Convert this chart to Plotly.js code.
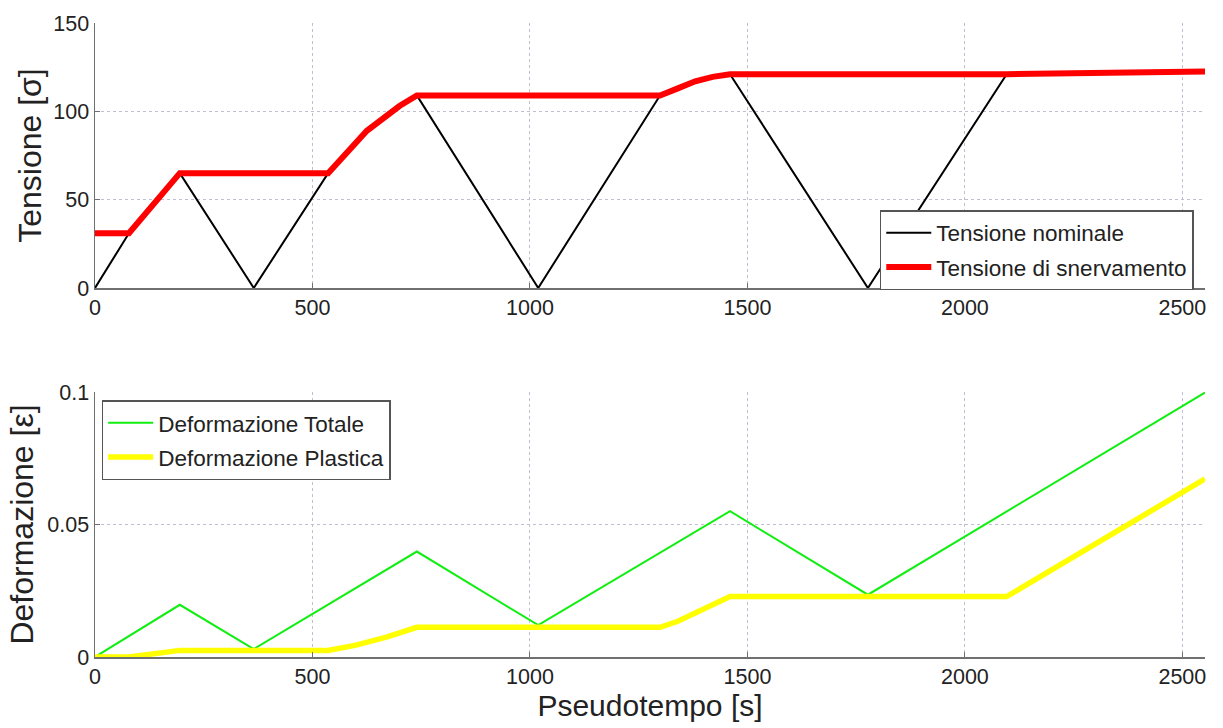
<!DOCTYPE html>
<html>
<head>
<meta charset="utf-8">
<script src="https://cdn.plot.ly/plotly-3.0.1.min.js"></script>
<style>html,body{margin:0;padding:0;background:#fff;}#chart{width:1223px;height:728px;}</style>
</head>
<body>
<div id="chart"></div>
<script>
// Top panel: stress
const nominaleX = [0, 78, 195, 365, 536, 625, 700, 740, 1019, 1299, 1340, 1380, 1420, 1460, 1777, 2096, 2552];
const nominaleY = [0, 31, 65, 0, 65, 89, 103, 109, 0, 109, 113, 117, 119.5, 121, 0, 121, 122.5];
const snervamentoX = [0, 78, 195, 536, 625, 700, 740, 1299, 1340, 1380, 1420, 1460, 2096, 2552];
const snervamentoY = [31, 31, 65, 65, 89, 103, 109, 109, 113, 117, 119.5, 121, 121, 122.5];
// Bottom panel: strain
const totaleX = [0, 195, 365, 740, 1019, 1460, 1777, 2552];
const totaleY = [0, 0.0197, 0.0030, 0.0398, 0.0120, 0.0550, 0.0235, 0.0998];
const plasticaX = [0, 78, 195, 536, 600, 670, 740, 1299, 1340, 1460, 2096, 2552];
const plasticaY = [0, 0, 0.0025, 0.0025, 0.0045, 0.0075, 0.0112, 0.0112, 0.0135, 0.0228, 0.0228, 0.0672];

const xTicks = [0, 500, 1000, 1500, 2000, 2500];
const yTopTicks = [0, 50, 100, 150];
const yBotTicks = [0, 0.05, 0.1];
const yBotLabels = ['0', '0.05', '0.1'];

const FONT = 'Liberation Sans, Arial, sans-serif';
const TXT = '#222222';

const traces = [
  {x: nominaleX, y: nominaleY, name: 'Tensione nominale', mode: 'lines', line: {color: '#000000', width: 2},
   xaxis: 'x', yaxis: 'y', legend: 'legend', legendgroup: 'a'},
  {x: snervamentoX, y: snervamentoY, name: 'Tensione di snervamento', mode: 'lines', line: {color: '#ff0000', width: 6},
   xaxis: 'x', yaxis: 'y', legend: 'legend', legendgroup: 'b'},
  {x: totaleX, y: totaleY, name: 'Deformazione Totale', mode: 'lines', line: {color: '#11ee11', width: 2},
   xaxis: 'x2', yaxis: 'y2', legend: 'legend2', legendgroup: 'c'},
  {x: plasticaX, y: plasticaY, name: 'Deformazione Plastica', mode: 'lines', line: {color: '#ffff00', width: 5.5},
   xaxis: 'x2', yaxis: 'y2', legend: 'legend2', legendgroup: 'd'}
];

const axCommon = {
  showline: true, linecolor: '#707070', linewidth: 1.5,
  ticks: 'inside', ticklen: 5, tickcolor: '#707070',
  showgrid: true, gridcolor: '#c2bed2', griddash: 'dot', gridwidth: 1,
  zeroline: false, mirror: false,
  tickfont: {family: FONT, size: 21.5, color: TXT}
};

const legendCommon = {
  bgcolor: '#ffffff', bordercolor: '#555555', borderwidth: 1.5,
  font: {family: FONT, size: 22.5, color: TXT},
  xanchor: 'left', yanchor: 'top', itemwidth: 45,
  traceorder: 'grouped', tracegroupgap: 2
};

const layout = {
  width: 1223, height: 728,
  margin: {l: 95, r: 18, t: 23, b: 71},
  paper_bgcolor: '#ffffff', plot_bgcolor: '#ffffff',
  showlegend: true,
  xaxis: Object.assign({}, axCommon, {domain: [0, 1], range: [0, 2552], tickvals: xTicks, anchor: 'y'}),
  yaxis: Object.assign({}, axCommon, {domain: [0.582, 1], range: [0, 150], tickvals: yTopTicks, anchor: 'x',
    title: {text: 'Tensione [σ]', font: {family: FONT, size: 32, color: TXT}, standoff: 2}}),
  xaxis2: Object.assign({}, axCommon, {domain: [0, 1], range: [0, 2552], tickvals: xTicks, anchor: 'y2',
    title: {text: 'Pseudotempo [s]', font: {family: FONT, size: 30, color: TXT}, standoff: 4}}),
  yaxis2: Object.assign({}, axCommon, {domain: [0, 0.418], range: [0, 0.1], tickvals: yBotTicks, ticktext: yBotLabels, anchor: 'x2',
    title: {text: 'Deformazione [ε]', font: {family: FONT, size: 32, color: TXT}, standoff: 4}}),
  legend: Object.assign({}, legendCommon, {x: 0.707, y: 0.705}),
  legend2: Object.assign({}, legendCommon, {x: 0.006, y: 0.405})
};

Plotly.newPlot('chart', traces, layout, {displayModeBar: false, staticPlot: true});
</script>
</body>
</html>
